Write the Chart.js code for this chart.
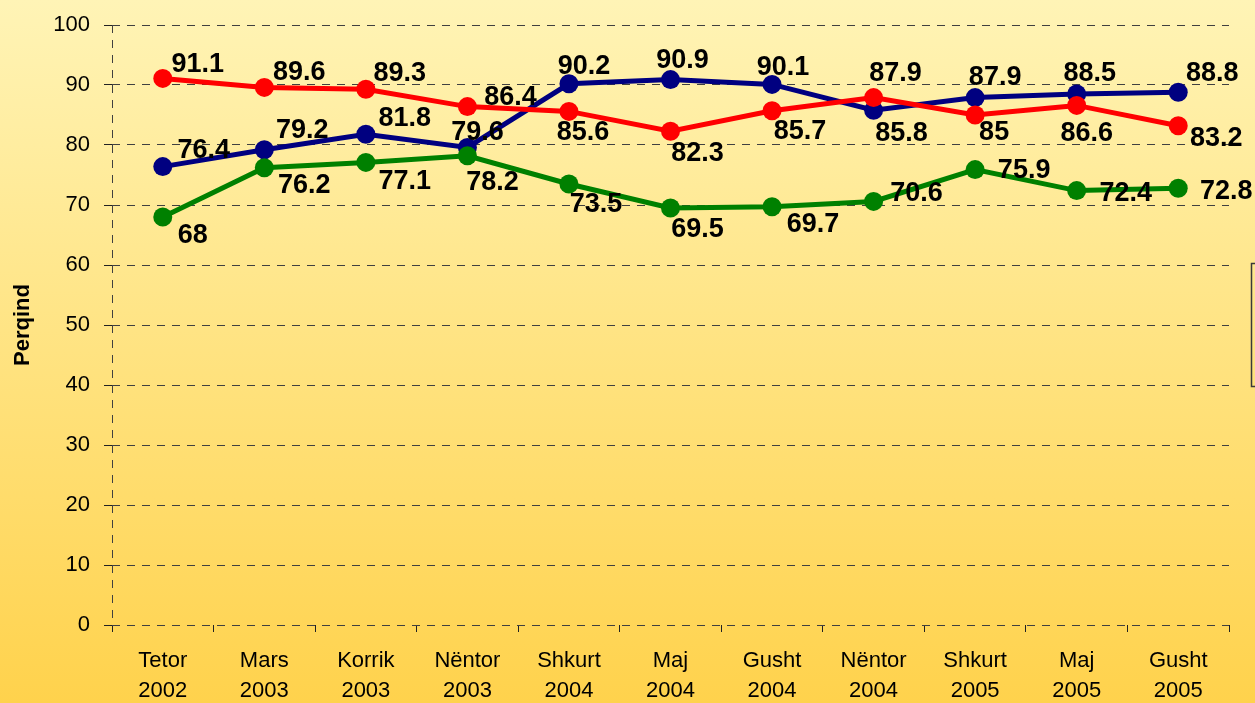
<!DOCTYPE html>
<html>
<head>
<meta charset="utf-8">
<script src="https://cdn.jsdelivr.net/npm/chart.js@4.4.1/dist/chart.umd.min.js"></script>
<style>
  html, body { margin: 0; padding: 0; background: #fff; }
  #wrap { width: 1255px; height: 703px; }
</style>
</head>
<body>
<div id="wrap"><canvas id="c" width="1255" height="703"></canvas></div>
<script>
// ---- data ----
const months = ['Tetor', 'Mars', 'Korrik', 'Nëntor', 'Shkurt', 'Maj', 'Gusht', 'Nëntor', 'Shkurt', 'Maj', 'Gusht'];
const years  = ['2002', '2003', '2003', '2003', '2004', '2004', '2004', '2004', '2005', '2005', '2005'];
const blueValues  = [76.4, 79.2, 81.8, 79.6, 90.2, 90.9, 90.1, 85.8, 87.9, 88.5, 88.8];
const redValues   = [91.1, 89.6, 89.3, 86.4, 85.6, 82.3, 85.7, 87.9, 85.0, 86.6, 83.2];
const greenValues = [68.0, 76.2, 77.1, 78.2, 73.5, 69.5, 69.7, 70.6, 75.9, 72.4, 72.8];
const yTicks = [0, 10, 20, 30, 40, 50, 60, 70, 80, 90, 100];
const yTitle = 'Perqind';

// ---- label placement (style only: offset of each value label from its point, px) ----
const blueLabelOffsets  = [[41,-17],[38,-20],[39,-17],[10,-16],[15,-18],[12,-20],[11,-18],[28,22],[20,-21],[13,-21],[34,-20]];
const redLabelOffsets   = [[35,-15],[35,-16],[34,-17],[43,-10],[14,20],[27,21],[28,20],[22,-25],[19,17],[10,27],[38,12]];
const greenLabelOffsets = [[30,18],[40,17],[39,18],[25,26],[27,20],[27,21],[41,17],[43,-9],[49,0],[49,2],[48,2]];

const categories = months.map((m, i) => [m, years[i]]);

const bgPlugin = {
  id: 'bg',
  beforeDraw(chart) {
    const { ctx, width, height } = chart;
    const g = ctx.createLinearGradient(0, 0, 0, height);
    g.addColorStop(0, '#FFF4B6');
    g.addColorStop(1, '#FFD24C');
    ctx.save();
    ctx.fillStyle = g;
    ctx.fillRect(0, 0, width, height);
    ctx.restore();
  },
  afterDraw(chart) {
    // partially visible legend frame at the right edge
    const { ctx, chartArea } = chart;
    const midY = (chartArea.top + chartArea.bottom) / 2;
    ctx.save();
    ctx.strokeStyle = '#3a3a3a';
    ctx.lineWidth = 1.5;
    ctx.strokeRect(chartArea.right + 22.5, midY - 61.5, 100, 123);
    ctx.restore();
  }
};

const valueLabelPlugin = {
  id: 'valueLabels',
  afterDatasetsDraw(chart) {
    const { ctx } = chart;
    ctx.save();
    ctx.font = 'bold 27px "Liberation Sans", Arial, sans-serif';
    ctx.fillStyle = '#000';
    ctx.textAlign = 'center';
    ctx.textBaseline = 'middle';
    chart.data.datasets.forEach((ds, di) => {
      const meta = chart.getDatasetMeta(di);
      meta.data.forEach((pt, i) => {
        const off = ds.labelOffsets[i];
        ctx.fillText(String(ds.data[i]), pt.x + off[0], pt.y + off[1] + 1);
      });
    });
    ctx.restore();
  }
};

const mkDataset = (label, data, color, offsets, order) => ({
  label, data,
  borderColor: color,
  backgroundColor: color,
  borderWidth: 5,
  pointRadius: 9.5,
  pointHoverRadius: 9.5,
  pointBorderWidth: 0,
  pointBackgroundColor: color,
  tension: 0,
  fill: false,
  order,
  labelOffsets: offsets
});

new Chart(document.getElementById('c'), {
  type: 'line',
  data: {
    labels: categories,
    datasets: [
      mkDataset('Seria 1', blueValues, '#000080', blueLabelOffsets, 2),
      mkDataset('Seria 2', redValues, '#FF0000', redLabelOffsets, 1),
      mkDataset('Seria 3', greenValues, '#008000', greenLabelOffsets, 0)
    ]
  },
  options: {
    responsive: false,
    animation: false,
    devicePixelRatio: 1,
    layout: { padding: { top: 25, right: 26, left: 0, bottom: 0 } },
    plugins: { legend: { display: false }, tooltip: { enabled: false } },
    scales: {
      x: {
        offset: true,
        grid: {
          offset: true,
          drawOnChartArea: true,
          color: (c) => (c.index === 0 ? '#404040' : 'rgba(0,0,0,0)'),
          lineWidth: 1,
          drawTicks: true,
          tickLength: 7,
          tickColor: '#222',
          tickWidth: 1,
          tickBorderDash: []
        },
        border: { display: false, dash: [8, 7] },
        ticks: {
          color: '#000',
          padding: 14,
          maxRotation: 0,
          autoSkip: false,
          font: { family: '"Liberation Sans", Arial, sans-serif', size: 22, lineHeight: '30px' }
        },
        afterFit(scale) { scale.height = 78; }
      },
      y: {
        min: 0, max: 100,
        afterBuildTicks(scale) { scale.ticks = yTicks.map(v => ({ value: v })); },
        grid: {
          color: '#404040',
          lineWidth: 1,
          drawTicks: true,
          tickLength: 8,
          tickColor: '#222',
          tickBorderDash: []
        },
        border: { display: false, dash: [8, 7] },
        ticks: {
          color: '#000',
          padding: 14,
          font: { family: '"Liberation Sans", Arial, sans-serif', size: 22, lineHeight: 1 }
        },
        title: {
          display: true,
          text: yTitle,
          color: '#000',
          padding: { top: 10, bottom: 0 },
          font: { family: '"Liberation Sans", Arial, sans-serif', size: 22, weight: 'bold' }
        },
        afterFit(scale) { scale.width = 112; }
      }
    }
  },
  plugins: [bgPlugin, valueLabelPlugin]
});
</script>
</body>
</html>
